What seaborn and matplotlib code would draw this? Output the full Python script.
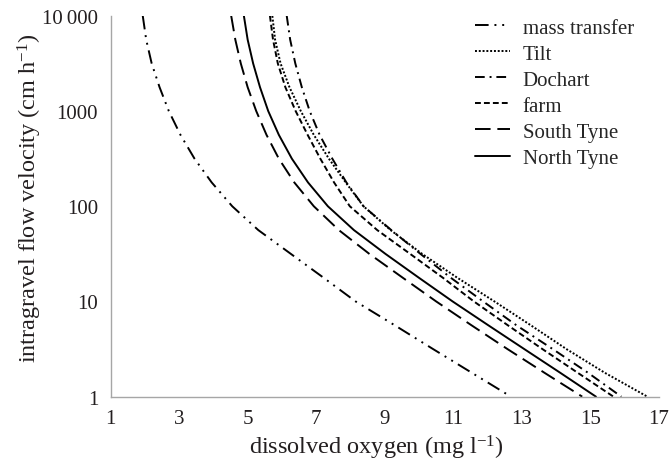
import numpy as np
import pandas as pd
import matplotlib
matplotlib.use("Agg")
import matplotlib.pyplot as plt
import seaborn as sns
from matplotlib.ticker import FixedLocator, FixedFormatter, NullLocator

# velocity levels (cm/h) at which each curve was read (quarter decades)
velocity = [10000, 5620, 3162, 1780, 1000, 562, 316, 178, 100,
            56.2, 31.6, 17.8, 10, 5.62, 3.16, 1.78, 1]

# dissolved oxygen (mg/l) for each series at those velocities
mass_transfer = [1.94, 2.04, 2.20, 2.43, 2.70, 3.04, 3.45, 3.95, 4.55,
                 5.31, 6.26, 7.21, 8.15, 9.29, 10.41, 11.54, 12.68]
tilt = [5.72, 5.80, 5.96, 6.22, 6.55, 6.93, 7.37, 7.86, 8.38,
        9.17, 10.09, 11.11, 12.2, 13.26, 14.3, 15.42, 16.66]
dochart = [6.14, 6.24, 6.39, 6.58, 6.81, 7.10, 7.47, 7.88, 8.38,
           9.19, 10.04, 10.92, 11.87, 12.84, 13.9, 14.93, 15.9]
farm = [5.65, 5.74, 5.88, 6.10, 6.40, 6.75, 7.12, 7.52, 7.98,
        8.78, 9.74, 10.69, 11.6, 12.59, 13.6, 14.63, 15.67]
south_tyne = [4.52, 4.64, 4.80, 5.00, 5.25, 5.55, 5.91, 6.36, 6.93,
              7.66, 8.55, 9.52, 10.50, 11.53, 12.58, 13.66, 14.76]
north_tyne = [4.89, 5.00, 5.16, 5.36, 5.60, 5.91, 6.29, 6.76, 7.34,
              8.10, 9.02, 9.99, 10.98, 12.02, 13.07, 14.12, 15.16]

series_names = ["mass transfer", "Tilt", "Dochart", "farm", "South Tyne", "North Tyne"]
x_ticks = [1, 3, 5, 7, 9, 11, 13, 15, 17]
y_ticks = [1, 10, 100, 1000, 10000]
y_tick_labels = ["1", "10", "100", "1000", "10\u2009000"]

dash_styles = {
    "mass transfer": (7, 3, 1, 3, 1, 3),
    "Tilt": (1, 0.95),
    "Dochart": (5, 2.5, 1, 2.5),
    "farm": (3, 1.6),
    "South Tyne": (8, 3.5),
    "North Tyne": "",
}

sns.set_style("white")
plt.rcParams["font.family"] = ["Liberation Serif", "DejaVu Serif"]
plt.rcParams["mathtext.fontset"] = "custom"
plt.rcParams["mathtext.rm"] = "Liberation Serif"

df = pd.concat(
    [
        pd.DataFrame({"oxygen": vals, "velocity": velocity, "site": name})
        for name, vals in zip(
            series_names,
            [mass_transfer, tilt, dochart, farm, south_tyne, north_tyne],
        )
    ],
    ignore_index=True,
)

fig = plt.figure(figsize=(6.7, 4.64), dpi=100)
ax = fig.add_axes([0.165, 0.143, 0.8186, 0.8206])

sns.lineplot(
    data=df,
    x="oxygen",
    y="velocity",
    hue="site",
    style="site",
    hue_order=series_names,
    style_order=series_names,
    palette=["black"] * len(series_names),
    dashes=dash_styles,
    linewidth=1.4,
    sort=False,
    estimator=None,
    ax=ax,
)

ax.set_yscale("log")
ax.set_xlim(1, 17)
ax.set_ylim(1, 10000)
ax.xaxis.set_major_locator(FixedLocator(x_ticks))
ax.yaxis.set_major_locator(FixedLocator(y_ticks))
ax.yaxis.set_major_formatter(FixedFormatter(y_tick_labels))
ax.yaxis.set_minor_locator(NullLocator())

for side in ["top", "right"]:
    ax.spines[side].set_visible(False)
for side in ["left", "bottom"]:
    ax.spines[side].set_color("#a6a6a6")
    ax.spines[side].set_linewidth(1.0)
ax.tick_params(axis="both", which="major", direction="out", length=3,
               width=1.0, color="#a6a6a6", labelsize=15, labelcolor="#231f20")
ax.tick_params(axis="y", pad=6)
ax.tick_params(axis="x", pad=6)
ax.grid(False)

ax.set_xlabel(r"dissolved oxygen (mg l$\mathregular{^{-1}}$)", fontsize=17.5,
              color="#231f20", labelpad=3)
ax.set_ylabel(r"intragravel flow velocity (cm h$\mathregular{^{-1}}$)", fontsize=17.5,
              color="#231f20", labelpad=-1.5)
# the original labels sit a little off-centre
ax.xaxis.label.set_x(0.484)
ax.yaxis.label.set_y(0.524)

handles, labels = ax.get_legend_handles_labels()
ax.legend(
    handles, labels,
    loc="upper left",
    bbox_to_anchor=(475 / 670, 1 - 19 / 464),
    bbox_transform=fig.transFigure,
    frameon=False,
    fontsize=15,
    handlelength=1.68,
    handletextpad=0.61,
    labelspacing=0.31,
    borderpad=0,
    borderaxespad=0,
)

fig.savefig("out.png", dpi=100)
